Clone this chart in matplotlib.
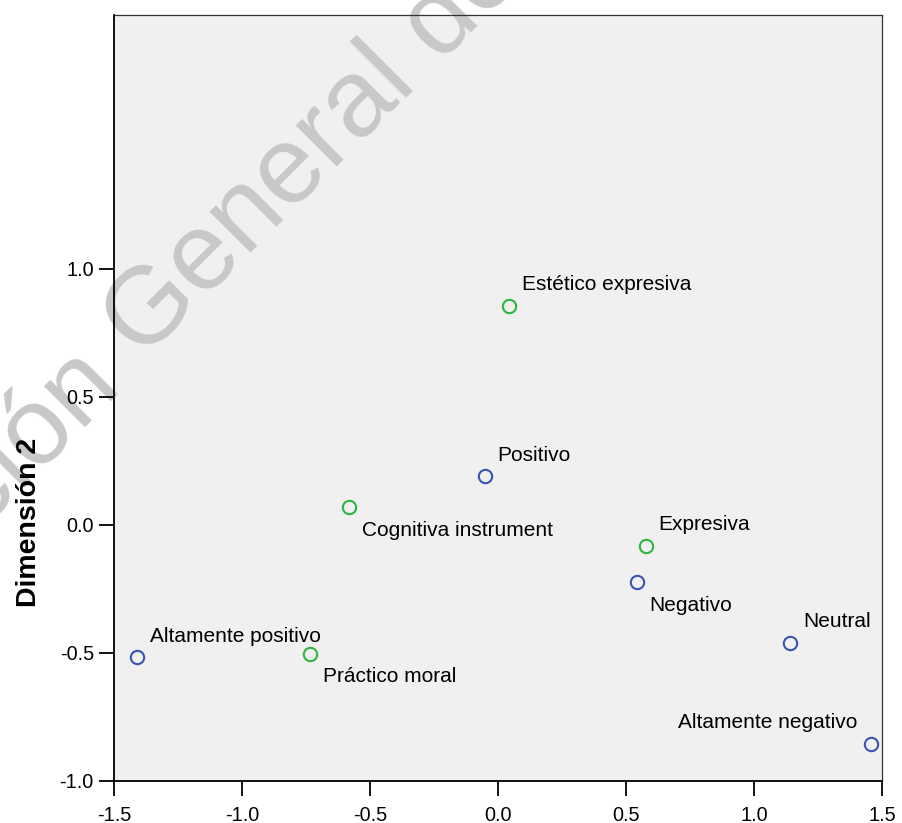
import matplotlib
matplotlib.use("Agg")
import matplotlib.pyplot as plt

plt.rcParams['font.family'] = ['Liberation Sans', 'DejaVu Sans']
plt.rcParams['axes.unicode_minus'] = False

# row points (valoracion)
row_names = ['Altamente positivo', 'Positivo', 'Neutral', 'Negativo', 'Altamente negativo']
row_x = [-1.411, -0.051, 1.142, 0.543, 1.457]
row_y = [-0.517, 0.190, -0.460, -0.225, -0.857]

# column points (racionalidad)
col_names = ['Cognitiva instrument', 'Práctico moral', 'Estético expresiva', 'Expresiva']
col_x = [-0.581, -0.734, 0.042, 0.578]
col_y = [0.068, -0.503, 0.855, -0.082]

x_ticks = [-1.5, -1.0, -0.5, 0.0, 0.5, 1.0, 1.5]
y_ticks = [-1.0, -0.5, 0.0, 0.5, 1.0]

# where each label sits relative to its point
label_pos = {
    'Altamente positivo': 'up',
    'Positivo': 'up',
    'Neutral': 'up',
    'Negativo': 'down',
    'Altamente negativo': 'upleft',
    'Cognitiva instrument': 'down',
    'Práctico moral': 'down',
    'Estético expresiva': 'up',
    'Expresiva': 'up',
}
offsets = {
    'up': ((9.2, 15.2), 'left'),
    'down': ((9.0, -16.5), 'left'),
    'upleft': ((-10.0, 15.5), 'right'),
}

BLUE = '#3b52b4'
GREEN = '#2cb640'

fig = plt.figure(figsize=(9.02, 8.23), dpi=100)
ax = fig.add_axes([114 / 902, 1 - 781 / 823, 768 / 902, 766 / 823])
ax.set_facecolor('#f0f0f0')

ax.plot(row_x, row_y, 'o', ls='none', ms=9.6, mfc='none', mec=BLUE, mew=1.5)
ax.plot(col_x, col_y, 'o', ls='none', ms=9.6, mfc='none', mec=GREEN, mew=1.5)

for names, xs, ys in [(row_names, row_x, row_y), (col_names, col_x, col_y)]:
    for name, x, y in zip(names, xs, ys):
        off, ha = offsets[label_pos[name]]
        ax.annotate(name, (x, y), xytext=off, textcoords='offset points',
                    ha=ha, va='center', fontsize=15, color='black')

ax.set_xlim(-1.5, 1.5)
ax.set_ylim(-1.0, 1.99)
ax.set_xticks(x_ticks)
ax.set_yticks(y_ticks)
ax.set_xticklabels(['%.1f' % v for v in x_ticks])
ax.set_yticklabels(['%.1f' % v for v in y_ticks])
ax.tick_params(direction='out', length=11, width=1.3, labelsize=14.3, pad=3.5)
ax.tick_params(axis='x', pad=7)

for side in ['left', 'bottom']:
    ax.spines[side].set_linewidth(1.3)
for side in ['top', 'right']:
    ax.spines[side].set_linewidth(0.9)
    ax.spines[side].set_color('#333333')

# label centred on the ticked range (-1 .. 1)
ax.set_ylabel('Dimensión 2', fontsize=20.5, fontweight='bold')
ax.yaxis.set_label_coords(-0.094, 0.338)

# library watermark across the page, kept under the axis artists
wm = dict(color='#c8c8c8', fontsize=79, rotation=45, rotation_mode='anchor',
          va='baseline', transform=fig.transFigure, clip_on=False, zorder=1.4)
ax.text(142 / 902, 1 - 361 / 823, 'General de Bibliotecas', ha='left', **wm)
ax.text(120.4 / 902, 1 - 382.6 / 823, 'Dirección', ha='right', **wm)

fig.savefig('out.png', dpi=100)
